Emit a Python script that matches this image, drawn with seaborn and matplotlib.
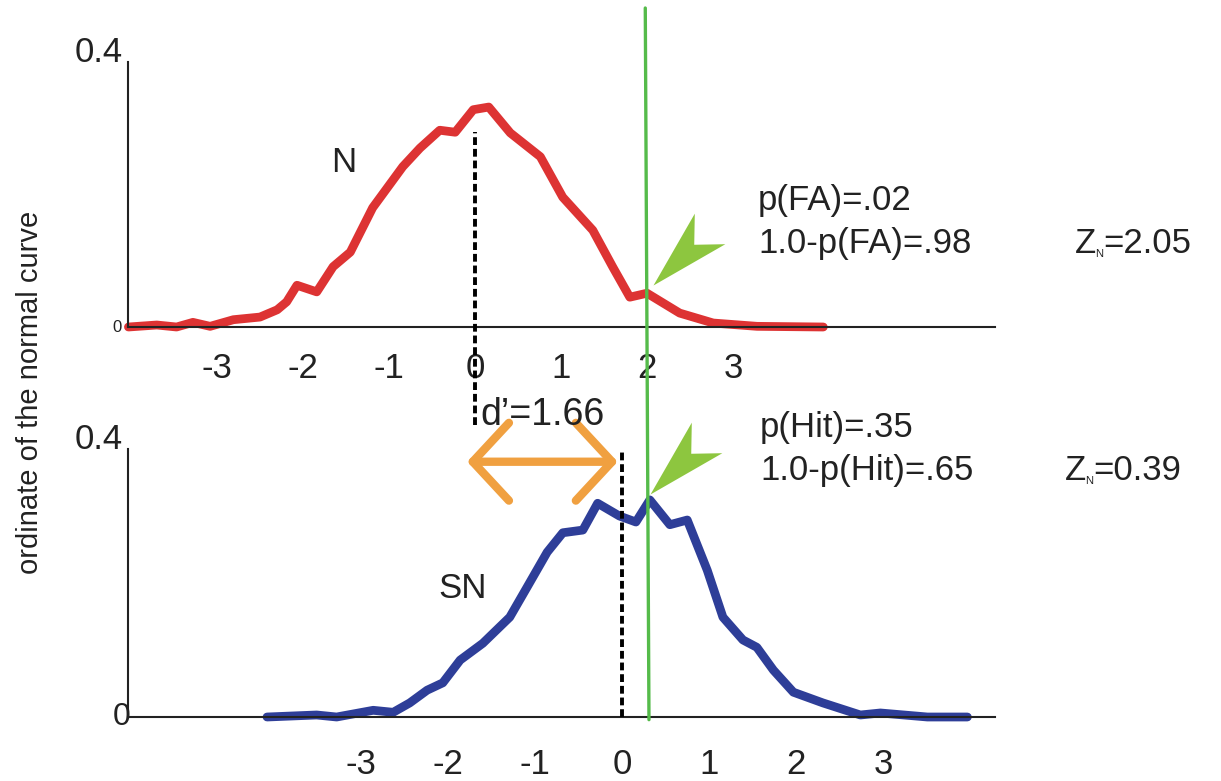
import numpy as np
import pandas as pd
import matplotlib
matplotlib.use("Agg")
import matplotlib.pyplot as plt
from matplotlib.patches import ConnectionPatch, FancyArrowPatch
import seaborn as sns

# noise distribution (N): z value vs ordinate
n_z = [-4.03, -3.70, -3.47, -3.28, -3.08, -2.81, -2.50, -2.30, -2.19, -2.07, -1.84,
       -1.65, -1.45, -1.19, -0.84, -0.64, -0.41, -0.23, -0.02, 0.16, 0.41, 0.76,
       1.02, 1.37, 1.60, 1.80, 2.00, 2.38, 2.77, 3.28, 4.05]
n_y = [0.0, 0.003, 0.0, 0.007, 0.001, 0.011, 0.015, 0.026, 0.038, 0.063, 0.053,
       0.091, 0.113, 0.180, 0.242, 0.270, 0.297, 0.294, 0.328, 0.332, 0.293, 0.257,
       0.196, 0.146, 0.091, 0.045, 0.051, 0.021, 0.006, 0.001, 0.0]

# signal + noise distribution (SN)
sn_z = [-4.08, -3.51, -3.28, -2.86, -2.63, -2.44, -2.24, -2.06, -1.86, -1.60, -1.29,
        -1.09, -0.86, -0.68, -0.45, -0.28, -0.03, 0.16, 0.32, 0.55, 0.75, 0.98,
        1.16, 1.39, 1.55, 1.74, 1.97, 2.31, 2.74, 2.97, 3.51, 3.97]
sn_y = [0.0, 0.003, 0.0, 0.010, 0.007, 0.021, 0.040, 0.051, 0.085, 0.110, 0.149,
        0.194, 0.246, 0.275, 0.279, 0.319, 0.300, 0.291, 0.324, 0.287, 0.294, 0.219,
        0.149, 0.115, 0.104, 0.070, 0.037, 0.021, 0.003, 0.006, 0.0, 0.0]

tick_vals = [-3, -2, -1, 0, 1, 2, 3]
crit_n = 1.98      # criterion seen on the N axis
crit_sn = 0.31     # same criterion on the SN axis
d_arrow = (-1.78, -0.05)

RED, BLUE = "#DD3333", "#2E3E98"
GREEN, LIME, ORANGE = "#55BB4A", "#8DC63F", "#F0A040"
INK = "#222222"

sns.set_style("ticks")
plt.rcParams["font.family"] = ["Liberation Sans", "DejaVu Sans"]

W, H = 1221, 781
fig = plt.figure(figsize=(W / 100, H / 100), dpi=100)


def box(left, right, top, base):
    return [left / W, 1 - base / H, (right - left) / W, (base - top) / H]


ax_n = fig.add_axes(box(128, 995, 62, 327))
ax_sn = fig.add_axes(box(128, 995, 449, 717))
ax_n.set_xlim((128 - 475) / 86, (995 - 475) / 86)
ax_sn.set_xlim((128 - 622) / 87, (995 - 622) / 87)

df_n = pd.DataFrame({"z": n_z, "y": n_y})
df_sn = pd.DataFrame({"z": sn_z, "y": sn_y})
sns.lineplot(data=df_n, x="z", y="y", ax=ax_n, color=RED, lw=6.3, sort=False,
             estimator=None, clip_on=False, solid_joinstyle="round")
sns.lineplot(data=df_sn, x="z", y="y", ax=ax_sn, color=BLUE, lw=6.3, sort=False,
             estimator=None, clip_on=False, solid_joinstyle="round")

for ax, pad in [(ax_n, 18), (ax_sn, 22)]:
    ax.set_ylim(0, 0.4)
    ax.set_xlabel("")
    ax.set_ylabel("")
    ax.set_xticks(tick_vals)
    ax.set_xticklabels([str(t) for t in tick_vals])
    ax.set_yticks([])
    ax.tick_params(axis="x", length=0, pad=pad, labelsize=25, labelcolor=INK)
    sns.despine(ax=ax)
    for s in ["left", "bottom"]:
        ax.spines[s].set_color(INK)
        ax.spines[s].set_linewidth(1.5)
    ax.patch.set_alpha(0)

# y labels drawn by hand so they sit where the original puts them
ax_n.text(-0.006, 0.4, "0.4", transform=ax_n.get_yaxis_transform(), ha="right",
          va="baseline", fontsize=25, color=INK)
ax_n.text(-0.007, 0, "0", transform=ax_n.get_yaxis_transform(), ha="right",
          va="center", fontsize=12, color=INK)
ax_sn.text(-0.006, 0.4, "0.4", transform=ax_sn.get_yaxis_transform(), ha="right",
           va="baseline", fontsize=25, color=INK)
ax_sn.text(0.003, 0, "0", transform=ax_sn.get_yaxis_transform(), ha="right",
           va="center", fontsize=23, color=INK)

# means (dashed)
ax_n.vlines(0, -0.148, 0.295, colors="black", lw=2.8, linestyles=(0, (2, 1)),
            clip_on=False, zorder=3)
ax_sn.vlines(0, 0, 0.398, colors="black", lw=2.8, linestyles=(0, (2, 1)),
             clip_on=False, zorder=3)

# criterion line running through both panels
crit = ConnectionPatch(xyA=(crit_n, 0.4815), coordsA=ax_n.transData,
                       xyB=(crit_sn, -0.004), coordsB=ax_sn.transData,
                       color=GREEN, lw=2.4, zorder=5)
fig.add_artist(crit)

# d' arrow
arr = FancyArrowPatch((d_arrow[0], 0.381), (d_arrow[1], 0.381),
                      arrowstyle="<->,head_length=0.65,head_width=0.7",
                      mutation_scale=40, lw=6, color=ORANGE, shrinkA=0, shrinkB=0,
                      transform=ax_sn.transData, clip_on=False)
ax_sn.add_patch(arr)


def pointer(angle):
    v = np.array([[0, 0], [-1, 0.27], [-0.72, 0], [-1, -0.27], [0, 0]])
    t = np.deg2rad(angle)
    rot = np.array([[np.cos(t), -np.sin(t)], [np.sin(t), np.cos(t)]])
    v = v @ rot.T
    m = np.abs(v).max()
    return v, 80 * m * 72 / 50


for ax, c, zs, ys, dx, dy in [(ax_n, crit_n, n_z, n_y, 0.09, 0.013),
                              (ax_sn, crit_sn, sn_z, sn_y, 0.01, 0.011)]:
    verts, ms = pointer(225)
    ax.plot([c + dx], [np.interp(c, zs, ys) + dy], marker=verts, ms=ms,
            color=LIME, mew=0, clip_on=False, zorder=6)


# labels
def ftext(x, y, s, **kw):
    kw.setdefault("fontsize", 25)
    kw.setdefault("color", INK)
    fig.text(x / W, 1 - y / H, s, **kw)


def z_text(x, y, value):
    # Z with a tiny subscript N, as in the original
    ftext(x, y, "Z", va="baseline")
    ftext(x + 20, y + 4, "N", va="baseline", fontsize=8)
    ftext(x + 28, y, "=" + value, va="baseline")


ftext(344, 163, "N", ha="center", va="center")
ftext(463, 588, "SN", ha="center", va="center")
ftext(543, 425, "d\u2019=1.66", ha="center", va="baseline", fontsize=27)
ftext(758, 210, "p(FA)=.02", va="baseline")
ftext(758, 253, "1.0-p(FA)=.98", va="baseline")
z_text(1075, 253, "2.05")
ftext(760, 437, "p(Hit)=.35", va="baseline")
ftext(760, 480, "1.0-p(Hit)=.65", va="baseline")
z_text(1065, 480, "0.39")
ftext(30, 392, "ordinate of the normal curve", rotation=90, ha="center",
      va="center", fontsize=21)

fig.savefig("out.png", dpi=100)
